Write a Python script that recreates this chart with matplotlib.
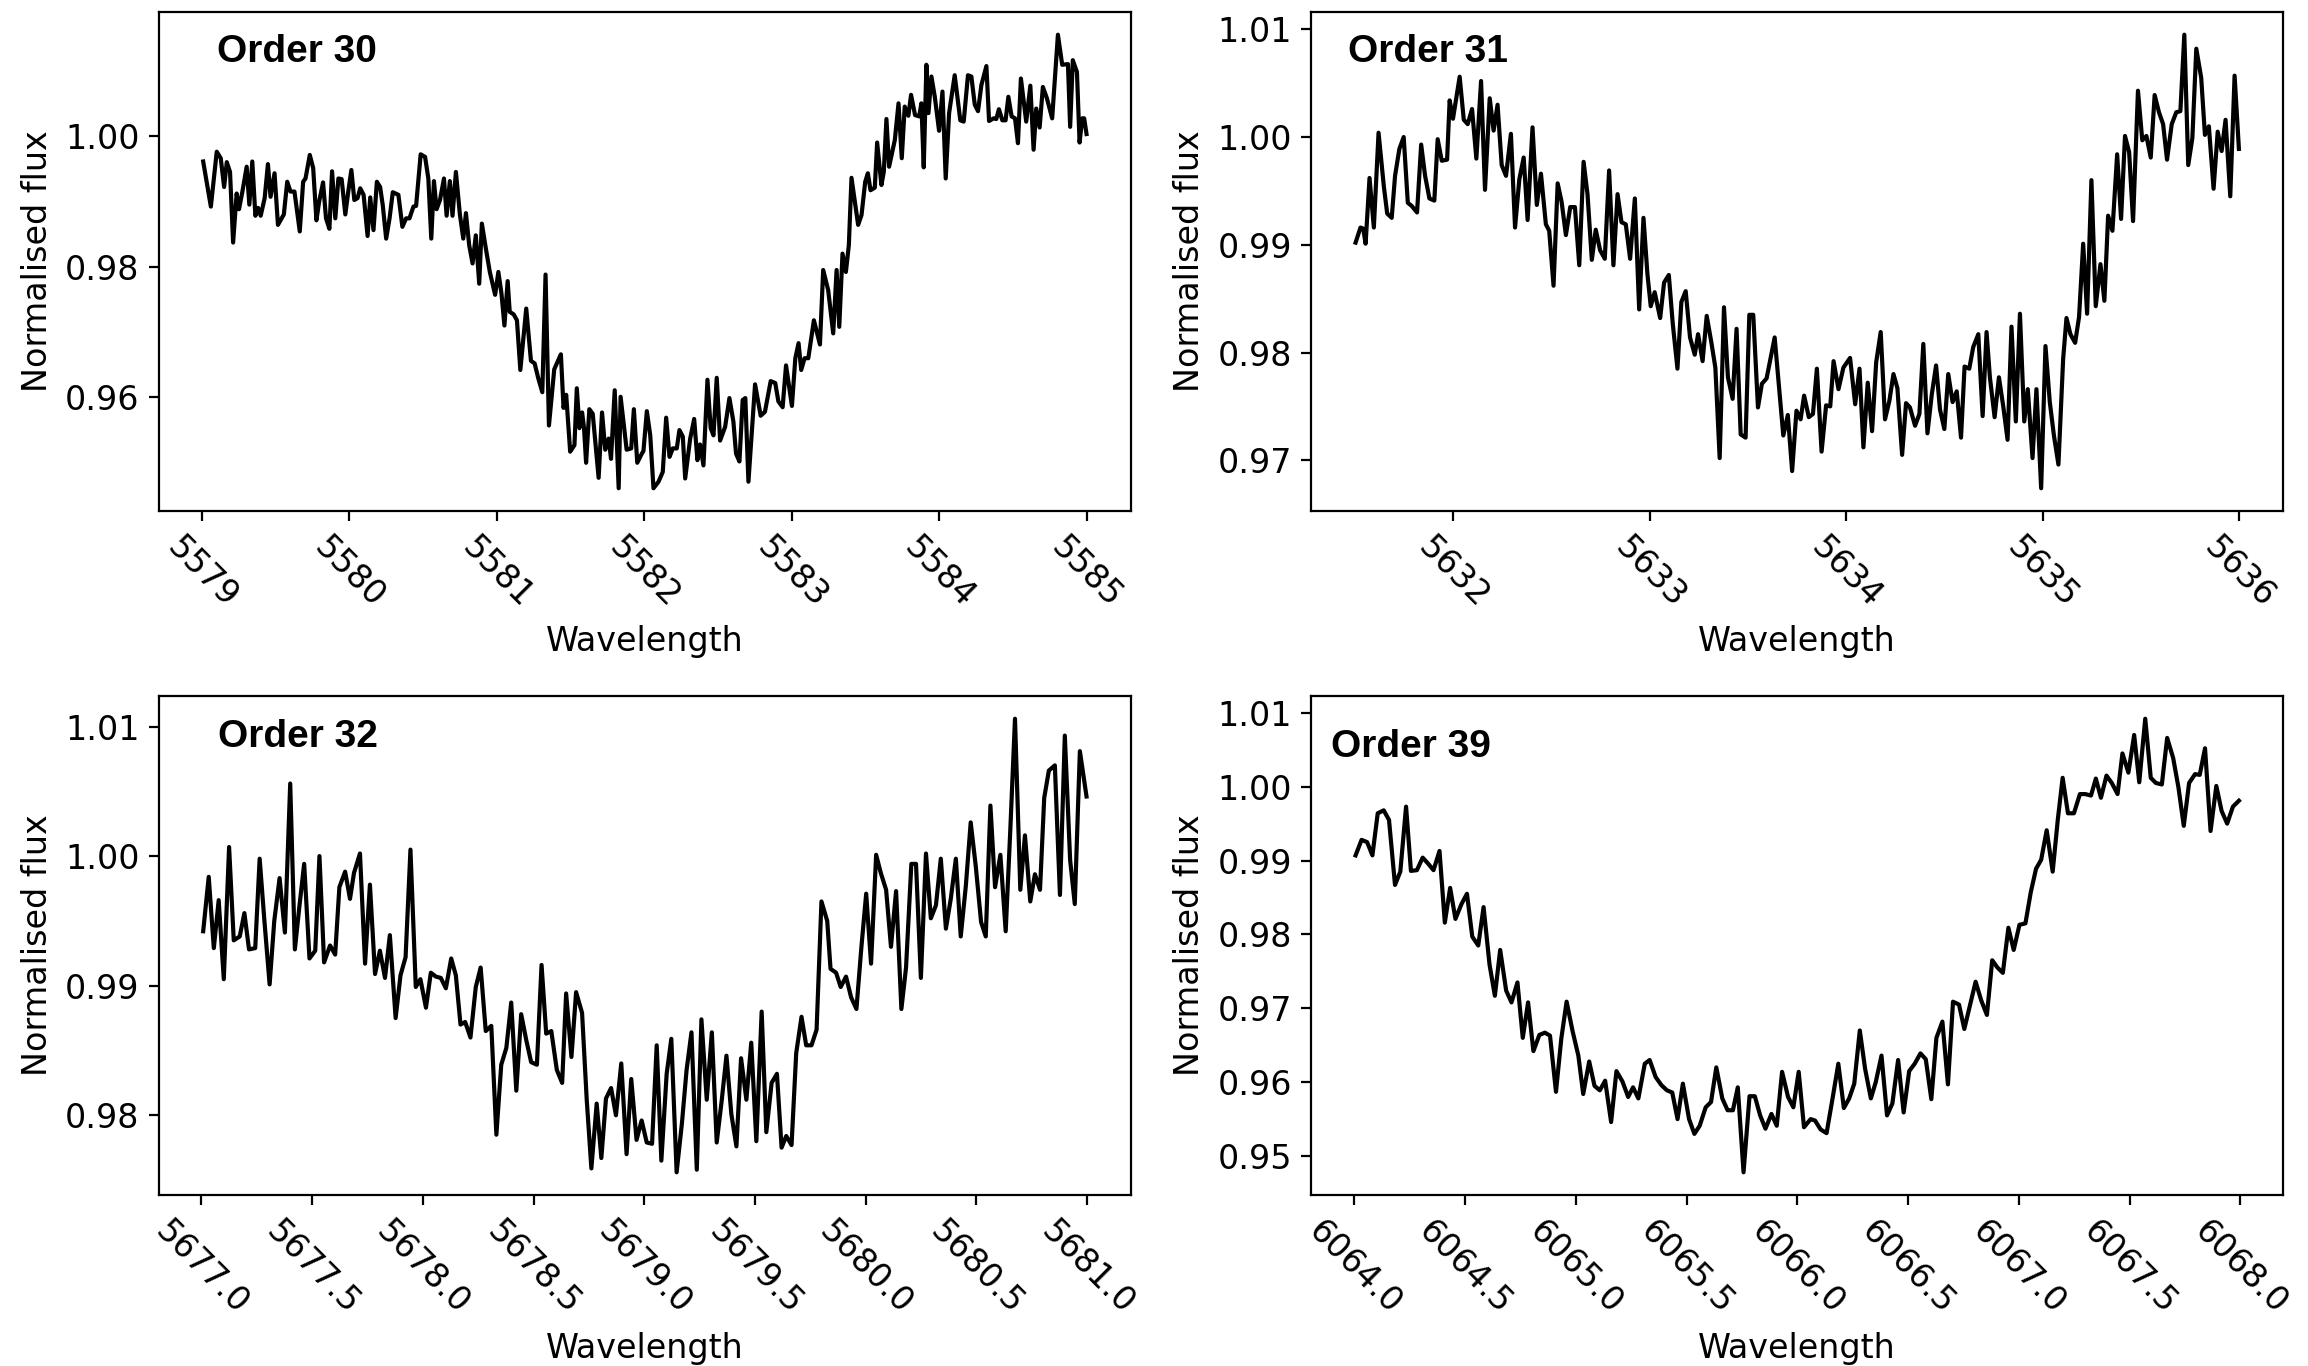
import matplotlib
matplotlib.use("Agg")
import matplotlib.pyplot as plt
import numpy as np
from matplotlib.ticker import MultipleLocator, FormatStrFormatter

# wavelength offsets from the order start
base30 = 5579.0
dwave30 = [0.009, 0.061, 0.101, 0.128, 0.151, 0.169, 0.191, 0.212, 0.236, 0.252, 0.275, 0.304, 0.322, 0.342, 0.363,
           0.381, 0.399, 0.426, 0.448, 0.466, 0.493, 0.516, 0.556, 0.579, 0.601, 0.628, 0.664, 0.687, 0.703, 0.732,
           0.755, 0.777, 0.795, 0.822, 0.842, 0.865, 0.883, 0.905, 0.926, 0.948, 0.973, 0.993, 1.014, 1.034, 1.056,
           1.074, 1.097, 1.124, 1.142, 1.164, 1.187, 1.209, 1.227, 1.250, 1.273, 1.295, 1.333, 1.360, 1.385, 1.408,
           1.435, 1.453, 1.484, 1.514, 1.536, 1.556, 1.574, 1.592, 1.615, 1.642, 1.660, 1.682, 1.700, 1.723, 1.750,
           1.773, 1.791, 1.813, 1.836, 1.858, 1.881, 1.899, 1.926, 1.953, 1.989, 2.011, 2.032, 2.052, 2.074, 2.088,
           2.115, 2.137, 2.160, 2.200, 2.232, 2.257, 2.282, 2.309, 2.331, 2.354, 2.390, 2.435, 2.453, 2.471, 2.498,
           2.527, 2.543, 2.561, 2.579, 2.592, 2.606, 2.628, 2.651, 2.691, 2.714, 2.736, 2.759, 2.775, 2.800, 2.827,
           2.840, 2.881, 2.912, 2.930, 2.953, 2.984,
           2.995, 3.018, 3.041, 3.063, 3.097, 3.126, 3.149, 3.172, 3.194, 3.221, 3.239, 3.262, 3.278, 3.312, 3.339,
           3.361, 3.379, 3.402, 3.429, 3.451, 3.470, 3.492, 3.515, 3.549, 3.578, 3.605, 3.623, 3.646, 3.668, 3.686,
           3.707, 3.752, 3.790, 3.819, 3.858, 3.889, 3.910, 3.939, 3.962, 4.002, 4.025, 4.047, 4.065, 4.088, 4.113,
           4.151, 4.192, 4.214, 4.248, 4.282, 4.305, 4.323, 4.345, 4.368, 4.388, 4.406, 4.451, 4.474, 4.499, 4.517,
           4.535, 4.564, 4.580, 4.609, 4.625, 4.643, 4.661, 4.700, 4.725, 4.747, 4.767, 4.792, 4.810, 4.837, 4.865,
           4.880, 4.896, 4.914, 4.928, 4.948, 4.971, 5.000, 5.023, 5.045, 5.068, 5.106, 5.144, 5.167, 5.196, 5.219,
           5.242, 5.264, 5.287, 5.321, 5.339, 5.370, 5.388, 5.406, 5.429, 5.451, 5.470, 5.492, 5.515, 5.535, 5.555,
           5.591, 5.619, 5.641, 5.659, 5.682, 5.704, 5.731, 5.767, 5.806, 5.835, 5.874, 5.889, 5.907, 5.935, 5.953,
           5.971, 5.984, 6.000]
flux30 = [0.9961, 0.9892, 0.9976, 0.9966, 0.9922, 0.9960, 0.9945, 0.9837, 0.9912, 0.9888, 0.9915, 0.9953, 0.9895,
          0.9961, 0.9878, 0.9890, 0.9878, 0.9905, 0.9957, 0.9907, 0.9943, 0.9864, 0.9880, 0.9930, 0.9915, 0.9915,
          0.9854, 0.9930, 0.9935, 0.9971, 0.9951, 0.9871, 0.9899, 0.9929, 0.9874, 0.9858, 0.9946, 0.9874, 0.9935,
          0.9934, 0.9880, 0.9915, 0.9948, 0.9902, 0.9905, 0.9920, 0.9910, 0.9847, 0.9906, 0.9856, 0.9930, 0.9922,
          0.9894, 0.9843, 0.9874, 0.9914, 0.9910, 0.9861, 0.9874, 0.9874, 0.9892, 0.9893, 0.9972, 0.9968, 0.9935,
          0.9843, 0.9931, 0.9888, 0.9902, 0.9935, 0.9878, 0.9931, 0.9878, 0.9945, 0.9880, 0.9843, 0.9882, 0.9833,
          0.9805, 0.9848, 0.9774, 0.9866, 0.9828, 0.9792, 0.9757, 0.9792, 0.9759, 0.9710, 0.9778, 0.9731, 0.9727,
          0.9718, 0.9642, 0.9736, 0.9656, 0.9652, 0.9629, 0.9608, 0.9788, 0.9557, 0.9643, 0.9666, 0.9584, 0.9604,
          0.9517, 0.9527, 0.9614, 0.9553, 0.9577, 0.9553, 0.9500, 0.9582, 0.9575, 0.9477, 0.9577, 0.9520, 0.9537,
          0.9506, 0.9611, 0.9461, 0.9601, 0.9520, 0.9522, 0.9582, 0.9500, 0.9514,
          0.9518, 0.9579, 0.9542, 0.9461, 0.9471, 0.9486, 0.9569, 0.9509, 0.9522, 0.9522, 0.9550, 0.9540, 0.9476,
          0.9537, 0.9567, 0.9504, 0.9528, 0.9496, 0.9627, 0.9553, 0.9542, 0.9630, 0.9534, 0.9555, 0.9599, 0.9563,
          0.9514, 0.9502, 0.9596, 0.9599, 0.9471, 0.9620, 0.9572, 0.9578, 0.9625, 0.9622, 0.9594, 0.9585, 0.9649,
          0.9587, 0.9660, 0.9683, 0.9642, 0.9660, 0.9660, 0.9718, 0.9681, 0.9795, 0.9764, 0.9698, 0.9795, 0.9708,
          0.9820, 0.9792, 0.9833, 0.9936, 0.9864, 0.9879, 0.9930, 0.9943, 0.9917, 0.9921, 0.9990, 0.9925, 0.9945,
          1.0026, 0.9953, 0.9994, 1.0050, 0.9966, 1.0045, 1.0031, 1.0063, 1.0032, 1.0030, 1.0050, 0.9952, 1.0109,
          1.0035, 1.0091, 1.0060, 1.0008, 1.0068, 0.9935, 1.0035, 1.0093, 1.0024, 1.0022, 1.0093, 1.0091, 1.0048,
          1.0038, 1.0078, 1.0107, 1.0023, 1.0027, 1.0026, 1.0041, 1.0024, 1.0024, 1.0060, 1.0030, 1.0027, 0.9989,
          1.0088, 1.0022, 1.0077, 0.9979, 1.0042, 1.0013, 1.0075, 1.0058, 1.0027, 1.0155, 1.0109, 1.0110, 1.0014,
          1.0116, 1.0098, 0.9990, 1.0027, 1.0027, 1.0003]

base31 = 5631.0
dwave31 = [0.502, 0.527, 0.541, 0.553, 0.573, 0.595, 0.619, 0.646, 0.663, 0.686, 0.703, 0.725, 0.747, 0.768, 0.788,
           0.815, 0.836, 0.856, 0.878, 0.903, 0.920, 0.941, 0.968, 0.981, 0.998, 1.032, 1.053, 1.073, 1.095, 1.117,
           1.141, 1.161, 1.185, 1.205, 1.225, 1.246, 1.268, 1.293, 1.314, 1.336, 1.358, 1.378, 1.403, 1.425, 1.446,
           1.471, 1.488, 1.510, 1.531, 1.551, 1.573, 1.595, 1.619, 1.641, 1.663, 1.683, 1.705, 1.725, 1.747, 1.771,
           1.793, 1.815, 1.836, 1.856, 1.878, 1.900, 1.924, 1.946, 1.968, 1.988, 2.005, 2.025, 2.053, 2.073, 2.097,
           2.117, 2.141, 2.161, 2.183, 2.205, 2.229, 2.246, 2.269, 2.290, 2.314, 2.334, 2.356, 2.378, 2.398, 2.422,
           2.442, 2.463, 2.488, 2.507, 2.527, 2.551, 2.571, 2.595, 2.636, 2.680, 2.703, 2.725, 2.747, 2.768,
           2.786, 2.810, 2.831, 2.851, 2.875, 2.898, 2.919, 2.936, 2.961, 2.986, 3.020, 3.046, 3.068, 3.088, 3.110,
           3.132, 3.153, 3.176, 3.198, 3.220, 3.241, 3.261, 3.285, 3.305, 3.325, 3.351, 3.373, 3.393, 3.414, 3.436,
           3.458, 3.478, 3.500, 3.520, 3.542, 3.563, 3.585, 3.603, 3.627, 3.647, 3.673, 3.695, 3.715, 3.732, 3.756,
           3.778, 3.800, 3.822, 3.842, 3.864, 3.885, 3.907, 3.925, 3.949, 3.969, 3.993, 4.015, 4.037, 4.058, 4.081,
           4.105, 4.122, 4.142, 4.166, 4.186, 4.207, 4.227, 4.249, 4.271, 4.295, 4.315, 4.334, 4.356, 4.380, 4.400,
           4.420, 4.441, 4.461, 4.486, 4.508, 4.529, 4.551, 4.571, 4.593, 4.614, 4.634, 4.658, 4.681, 4.702, 4.722,
           4.742, 4.763, 4.783, 4.808, 4.827, 4.847, 4.871, 4.892, 4.912, 4.932, 4.956, 4.978, 5.000]
flux31 = [0.9902, 0.9916, 0.9915, 0.9901, 0.9962, 0.9916, 1.0004, 0.9954, 0.9929, 0.9925, 0.9964, 0.9989, 1.0000,
          0.9939, 0.9936, 0.9930, 0.9993, 0.9964, 0.9943, 0.9941, 0.9998, 0.9978, 0.9979, 1.0034, 1.0017, 1.0056,
          1.0016, 1.0012, 1.0026, 0.9980, 1.0052, 0.9951, 1.0036, 1.0006, 1.0030, 0.9974, 0.9964, 1.0003, 0.9916,
          0.9961, 0.9981, 0.9923, 1.0009, 0.9937, 0.9966, 0.9919, 0.9913, 0.9862, 0.9957, 0.9940, 0.9909, 0.9935,
          0.9935, 0.9881, 0.9977, 0.9947, 0.9886, 0.9914, 0.9895, 0.9887, 0.9969, 0.9881, 0.9947, 0.9921, 0.9919,
          0.9887, 0.9943, 0.9840, 0.9925, 0.9873, 0.9843, 0.9856, 0.9832, 0.9865, 0.9872, 0.9827, 0.9785, 0.9847,
          0.9857, 0.9814, 0.9798, 0.9817, 0.9792, 0.9834, 0.9809, 0.9786, 0.9702, 0.9842, 0.9777, 0.9757, 0.9822,
          0.9724, 0.9721, 0.9835, 0.9835, 0.9749, 0.9771, 0.9776, 0.9814, 0.9723, 0.9742, 0.9690, 0.9746, 0.9738,
          0.9760, 0.9740, 0.9743, 0.9785, 0.9708, 0.9751, 0.9750, 0.9792, 0.9766, 0.9786, 0.9795, 0.9752, 0.9785,
          0.9712, 0.9772, 0.9727, 0.9791, 0.9819, 0.9738, 0.9755, 0.9780, 0.9767, 0.9705, 0.9753, 0.9749, 0.9732,
          0.9743, 0.9808, 0.9725, 0.9761, 0.9788, 0.9747, 0.9729, 0.9780, 0.9754, 0.9764, 0.9721, 0.9787, 0.9785,
          0.9805, 0.9817, 0.9741, 0.9819, 0.9777, 0.9740, 0.9777, 0.9750, 0.9719, 0.9824, 0.9736, 0.9836, 0.9736,
          0.9766, 0.9702, 0.9766, 0.9674, 0.9806, 0.9754, 0.9723, 0.9696, 0.9794, 0.9832, 0.9817, 0.9809, 0.9833,
          0.9901, 0.9836, 0.9960, 0.9843, 0.9882, 0.9848, 0.9927, 0.9913, 0.9984, 0.9924, 1.0001, 0.9986, 0.9922,
          1.0043, 0.9997, 1.0001, 0.9981, 1.0039, 1.0023, 1.0012, 0.9979, 1.0012, 1.0023, 1.0024, 1.0095, 0.9974,
          0.9999, 1.0082, 1.0055, 1.0002, 1.0010, 0.9952, 1.0005, 0.9987, 1.0016, 0.9945, 1.0057, 0.9989]

base32 = 5677.0
dwave32 = [0.008, 0.033, 0.056, 0.078, 0.101, 0.125, 0.146, 0.173, 0.194, 0.215, 0.243, 0.263, 0.284, 0.308, 0.329,
           0.353, 0.377, 0.401, 0.422, 0.443, 0.464, 0.488, 0.514, 0.533, 0.554, 0.581, 0.604, 0.623, 0.649, 0.671,
           0.689, 0.716, 0.739, 0.761, 0.784, 0.806, 0.829, 0.851, 0.877, 0.899, 0.922, 0.944, 0.968, 0.989, 1.014,
           1.036, 1.059, 1.081, 1.104, 1.128, 1.149, 1.170, 1.191, 1.215, 1.239, 1.261, 1.284, 1.309, 1.332, 1.354,
           1.377, 1.399, 1.422, 1.444, 1.467, 1.489, 1.515, 1.536, 1.557, 1.580, 1.605, 1.629, 1.647, 1.671, 1.692,
           1.719, 1.740, 1.761, 1.785, 1.806, 1.827, 1.850, 1.872, 1.896, 1.920, 1.941, 1.965, 1.988, 2.011,
           2.035, 2.056, 2.077, 2.101, 2.122, 2.146, 2.170, 2.191, 2.213, 2.237, 2.258, 2.282, 2.305, 2.327, 2.350,
           2.371, 2.393, 2.416, 2.437, 2.461, 2.483, 2.506, 2.530, 2.551, 2.575, 2.599, 2.620, 2.641, 2.665, 2.686,
           2.710, 2.731, 2.755, 2.778, 2.800, 2.826, 2.841, 2.866, 2.887, 2.911, 2.934, 2.958, 2.980, 3.002, 3.024,
           3.047, 3.068, 3.092, 3.114, 3.137, 3.161, 3.182, 3.206, 3.227, 3.249, 3.272, 3.294, 3.317, 3.339, 3.362,
           3.384, 3.407, 3.429, 3.452, 3.474, 3.497, 3.521, 3.542, 3.563, 3.584, 3.608, 3.632, 3.653, 3.674, 3.698,
           3.719, 3.743, 3.764, 3.787, 3.806, 3.827, 3.854, 3.877, 3.899, 3.923, 3.944, 3.967, 3.997]
flux32 = [0.9942, 0.9984, 0.9929, 0.9966, 0.9905, 1.0007, 0.9935, 0.9938, 0.9956, 0.9928, 0.9929, 0.9998, 0.9951,
          0.9901, 0.9950, 0.9983, 0.9941, 1.0056, 0.9928, 0.9962, 0.9994, 0.9921, 0.9927, 1.0000, 0.9918, 0.9931,
          0.9924, 0.9976, 0.9988, 0.9967, 0.9987, 1.0002, 0.9917, 0.9978, 0.9909, 0.9927, 0.9906, 0.9939, 0.9875,
          0.9908, 0.9922, 1.0005, 0.9899, 0.9905, 0.9883, 0.9910, 0.9907, 0.9906, 0.9898, 0.9921, 0.9908, 0.9870,
          0.9872, 0.9860, 0.9899, 0.9914, 0.9865, 0.9869, 0.9785, 0.9839, 0.9852, 0.9887, 0.9819, 0.9878, 0.9858,
          0.9841, 0.9839, 0.9916, 0.9863, 0.9865, 0.9835, 0.9825, 0.9894, 0.9845, 0.9895, 0.9879, 0.9812, 0.9759,
          0.9809, 0.9767, 0.9813, 0.9821, 0.9800, 0.9840, 0.9770, 0.9828, 0.9781, 0.9796, 0.9779,
          0.9778, 0.9854, 0.9765, 0.9832, 0.9859, 0.9756, 0.9794, 0.9835, 0.9864, 0.9758, 0.9874, 0.9812, 0.9864,
          0.9779, 0.9812, 0.9846, 0.9801, 0.9776, 0.9844, 0.9812, 0.9856, 0.9780, 0.9880, 0.9787, 0.9825, 0.9832,
          0.9775, 0.9784, 0.9777, 0.9848, 0.9876, 0.9854, 0.9854, 0.9866, 0.9965, 0.9950, 0.9913, 0.9910, 0.9899,
          0.9907, 0.9891, 0.9882, 0.9929, 0.9971, 0.9917, 1.0001, 0.9987, 0.9974, 0.9930, 0.9973, 0.9882, 0.9914,
          0.9994, 0.9994, 0.9906, 1.0002, 0.9952, 0.9962, 0.9998, 0.9944, 0.9967, 0.9998, 0.9938, 0.9977, 1.0026,
          0.9992, 0.9949, 0.9938, 1.0039, 0.9976, 1.0001, 0.9942, 1.0021, 1.0106, 0.9974, 1.0016, 0.9965, 0.9986,
          0.9974, 1.0045, 1.0066, 1.0070, 0.9970, 1.0093, 0.9997, 0.9963, 1.0081, 1.0046]

base39 = 6064.0
dwave39 = [0.005, 0.032, 0.057, 0.081, 0.105, 0.132, 0.156, 0.183, 0.207, 0.233, 0.255, 0.282, 0.308, 0.335, 0.357,
           0.384, 0.408, 0.432, 0.456, 0.483, 0.508, 0.532, 0.559, 0.583, 0.610, 0.634, 0.658, 0.685, 0.709, 0.736,
           0.760, 0.784, 0.808, 0.835, 0.860, 0.883, 0.910, 0.934, 0.958, 0.985, 1.011, 1.033, 1.060, 1.084, 1.108,
           1.132, 1.159, 1.183, 1.210, 1.236, 1.258, 1.282, 1.311, 1.333, 1.360, 1.386, 1.411, 1.435, 1.459, 1.483,
           1.511, 1.535, 1.559, 1.586, 1.610, 1.634, 1.661, 1.685, 1.709, 1.731, 1.757, 1.784, 1.808, 1.832, 1.856,
           1.883, 1.907, 1.931, 1.958, 1.982, 2.006,
           2.030, 2.060, 2.080, 2.105, 2.132, 2.159, 2.185, 2.210, 2.234, 2.257, 2.282, 2.306, 2.332, 2.354, 2.380,
           2.405, 2.429, 2.455, 2.480, 2.505, 2.530, 2.556, 2.580, 2.605, 2.628, 2.655, 2.680, 2.703, 2.730, 2.754,
           2.778, 2.805, 2.830, 2.856, 2.880, 2.904, 2.928, 2.953, 2.977, 3.003, 3.030, 3.054, 3.078, 3.101, 3.126,
           3.153, 3.176, 3.198, 3.222, 3.249, 3.276, 3.300, 3.326, 3.348, 3.371, 3.396, 3.420, 3.446, 3.468, 3.495,
           3.521, 3.544, 3.571, 3.596, 3.619, 3.646, 3.670, 3.697, 3.721, 3.745, 3.769, 3.796, 3.817, 3.841, 3.866,
           3.892, 3.916, 3.941, 3.967, 3.994]
flux39 = [0.9907, 0.9928, 0.9925, 0.9907, 0.9964, 0.9968, 0.9955, 0.9867, 0.9885, 0.9973, 0.9886, 0.9887, 0.9904,
          0.9895, 0.9887, 0.9913, 0.9816, 0.9863, 0.9821, 0.9841, 0.9855, 0.9797, 0.9785, 0.9837, 0.9759, 0.9717,
          0.9779, 0.9724, 0.9708, 0.9735, 0.9660, 0.9708, 0.9642, 0.9664, 0.9667, 0.9663, 0.9587, 0.9659, 0.9709,
          0.9669, 0.9636, 0.9584, 0.9628, 0.9595, 0.9589, 0.9602, 0.9546, 0.9615, 0.9601, 0.9580, 0.9593, 0.9578,
          0.9625, 0.9630, 0.9607, 0.9596, 0.9589, 0.9586, 0.9550, 0.9598, 0.9550, 0.9530, 0.9541, 0.9566, 0.9573,
          0.9620, 0.9578, 0.9562, 0.9562, 0.9593, 0.9478, 0.9581, 0.9581, 0.9555, 0.9537, 0.9557, 0.9541, 0.9614,
          0.9580, 0.9566, 0.9614,
          0.9539, 0.9550, 0.9548, 0.9536, 0.9531, 0.9578, 0.9625, 0.9565, 0.9578, 0.9598, 0.9670, 0.9618, 0.9578,
          0.9600, 0.9636, 0.9555, 0.9571, 0.9630, 0.9559, 0.9615, 0.9625, 0.9639, 0.9631, 0.9577, 0.9660, 0.9682,
          0.9597, 0.9709, 0.9705, 0.9672, 0.9702, 0.9736, 0.9711, 0.9691, 0.9765, 0.9755, 0.9748, 0.9809, 0.9779,
          0.9813, 0.9815, 0.9857, 0.9889, 0.9901, 0.9941, 0.9885, 0.9955, 1.0012, 0.9964, 0.9964, 0.9990, 0.9990,
          0.9988, 1.0011, 0.9985, 1.0015, 1.0005, 0.9990, 1.0045, 1.0019, 1.0070, 1.0006, 1.0092, 1.0012, 1.0005,
          1.0003, 1.0066, 1.0039, 0.9999, 0.9947, 1.0005, 1.0017, 1.0016, 1.0052, 0.9940, 1.0001, 0.9967, 0.9950,
          0.9973, 0.9981]

orders = ["Order 30", "Order 31", "Order 32", "Order 39"]

panels = [
    (base30, dwave30, flux30, 1.0, 0.02, "%d", (0.06, 0.90)),
    (base31, dwave31, flux31, 1.0, 0.01, "%d", (0.038, 0.90)),
    (base32, dwave32, flux32, 0.5, 0.01, "%.1f", (0.061, 0.897)),
    (base39, dwave39, flux39, 0.5, 0.01, "%.1f", (0.02, 0.877)),
]

fig, axes = plt.subplots(2, 2, figsize=(11.54, 6.83), dpi=200)
fig.subplots_adjust(left=0.0689, right=0.9892, top=0.9912, bottom=0.1252,
                    wspace=0.186, hspace=0.371)

for ax, (base, dw, fl, xstep, ystep, xfmt, txt), name in zip(axes.flat, panels, orders):
    ax.plot(base + np.array(dw), fl, color="black", lw=1.5)
    ax.xaxis.set_major_locator(MultipleLocator(xstep))
    ax.xaxis.set_major_formatter(FormatStrFormatter(xfmt))
    ax.yaxis.set_major_locator(MultipleLocator(ystep))
    ax.yaxis.set_major_formatter(FormatStrFormatter("%.2f"))
    ax.tick_params(axis="both", labelsize=12)
    plt.setp(ax.get_xticklabels(), rotation=-45)
    ax.set_xlabel("Wavelength", fontsize=12)
    ax.set_ylabel("Normalised flux", fontsize=12)
    ax.text(txt[0], txt[1], name, transform=ax.transAxes, fontsize=14,
            fontweight="bold", family=["Liberation Sans", "DejaVu Sans"])

fig.savefig("out.png", dpi=200)
